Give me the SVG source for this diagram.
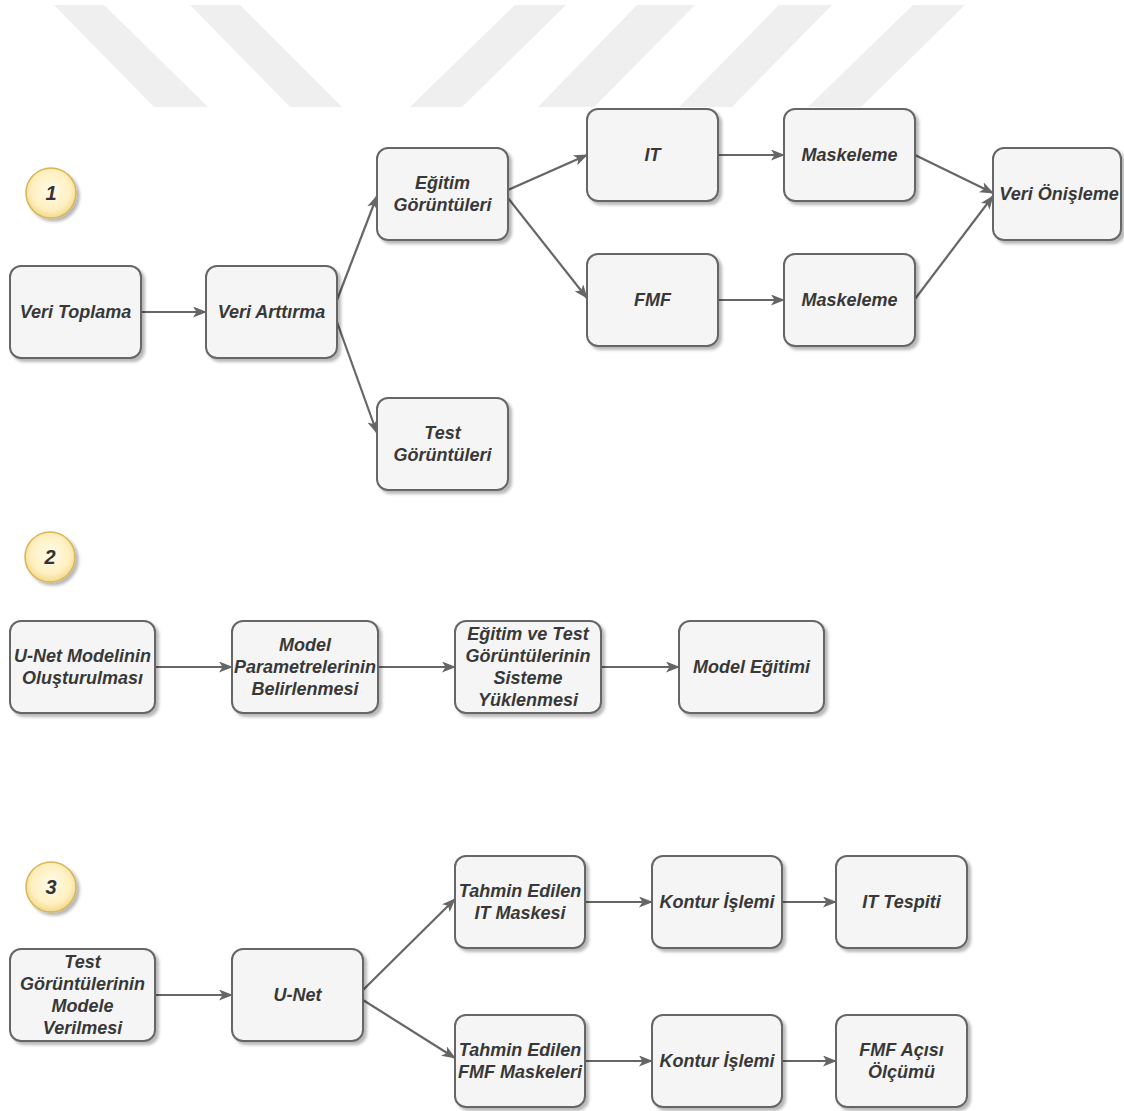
<svg xmlns="http://www.w3.org/2000/svg" width="1124" height="1111" viewBox="0 0 1124 1111">
  <defs>
    <filter id="shadow" x="-10%" y="-10%" width="130%" height="130%">
      <feDropShadow dx="3" dy="3" stdDeviation="1.6" flood-color="#000" flood-opacity="0.28"/>
    </filter>
    <radialGradient id="badgeFill" cx="50%" cy="45%" r="55%">
      <stop offset="0" stop-color="#fffbea"/>
      <stop offset="0.7" stop-color="#fff0c0"/>
      <stop offset="1" stop-color="#f1d98e"/>
    </radialGradient>
    <marker id="arrow" viewBox="0 0 14 11" refX="13" refY="5.5" markerWidth="14" markerHeight="11" markerUnits="userSpaceOnUse" orient="auto">
      <path d="M0,0 L14,5.5 L0,11 L3.5,5.5 Z" fill="#666666"/>
    </marker>
  </defs>
  <style>
    .box { fill: #f5f5f5; stroke: #666666; stroke-width: 2; filter: url(#shadow); }
    .lbl { font-family: "Liberation Sans", Arial, sans-serif; font-size: 18px; font-weight: bold; font-style: italic; fill: #383838; text-anchor: middle; }
    .badge { fill: url(#badgeFill); stroke: #d6b656; stroke-width: 1.5; filter: url(#shadow); }
    .badgeTxt { font-family: "Liberation Sans", Arial, sans-serif; font-size: 20px; font-weight: bold; font-style: italic; fill: #333333; text-anchor: middle; }
    .edge { fill: none; stroke: #666666; stroke-width: 2.2; marker-end: url(#arrow); }
    .stripe { fill: #efefef; }
  </style>

  <rect x="0" y="0" width="1124" height="1111" fill="#ffffff"/>

  <!-- diagonal band decoration along the top -->
  <g id="bands">
    <polygon class="stripe" points="54,5 104,5 208,107 154,107"/>
    <polygon class="stripe" points="190,5 240,5 342,107 290,107"/>
    <polygon class="stripe" points="515,5 566,5 462,107 410,107"/>
    <polygon class="stripe" points="637,5 695,5 594,107 538,107"/>
    <polygon class="stripe" points="779,5 832,5 732,107 679,107"/>
    <polygon class="stripe" points="913,5 965,5 861,107 808,107"/>
  </g>

  <!-- step badges -->
  <g id="badge-1"><circle class="badge" cx="51" cy="193" r="25"/><text class="badgeTxt" x="51" y="200">1</text></g>
  <g id="badge-2"><circle class="badge" cx="50" cy="557" r="25"/><text class="badgeTxt" x="50" y="564">2</text></g>
  <g id="badge-3"><circle class="badge" cx="51" cy="887" r="25"/><text class="badgeTxt" x="51" y="894">3</text></g>

  <!-- connectors -->
  <g id="connectors">
    <line class="edge" x1="141" y1="312" x2="206" y2="312"/>
    <line class="edge" x1="337" y1="300" x2="377" y2="196"/>
    <line class="edge" x1="337" y1="322" x2="377" y2="433"/>
    <line class="edge" x1="508" y1="190" x2="587" y2="155"/>
    <line class="edge" x1="508" y1="198" x2="587" y2="298"/>
    <line class="edge" x1="718" y1="155" x2="784" y2="155"/>
    <line class="edge" x1="718" y1="300" x2="784" y2="300"/>
    <line class="edge" x1="915" y1="155" x2="993" y2="193"/>
    <line class="edge" x1="915" y1="299" x2="993" y2="196"/>

    <line class="edge" x1="155" y1="667" x2="232" y2="667"/>
    <line class="edge" x1="378" y1="667" x2="455" y2="667"/>
    <line class="edge" x1="601" y1="667" x2="679" y2="667"/>

    <line class="edge" x1="155" y1="995" x2="232" y2="995"/>
    <line class="edge" x1="363" y1="990" x2="455" y2="899"/>
    <line class="edge" x1="363" y1="1000" x2="455" y2="1058"/>
    <line class="edge" x1="585" y1="902" x2="652" y2="902"/>
    <line class="edge" x1="782" y1="902" x2="836" y2="902"/>
    <line class="edge" x1="585" y1="1061" x2="652" y2="1061"/>
    <line class="edge" x1="782" y1="1061" x2="836" y2="1061"/>
  </g>

  <!-- stage 1: data preparation -->
  <g id="veri-toplama"><rect class="box" x="10" y="266" width="131" height="92" rx="11"/><text class="lbl" x="75.5" y="318">Veri Toplama</text></g>
  <g id="veri-arttirma"><rect class="box" x="206" y="266" width="131" height="92" rx="11"/><text class="lbl" x="271.5" y="318">Veri Arttırma</text></g>
  <g id="egitim-goruntuleri"><rect class="box" x="377" y="148" width="131" height="92" rx="11"/><text class="lbl" x="442.5" y="189">Eğitim</text><text class="lbl" x="442.5" y="211">Görüntüleri</text></g>
  <g id="test-goruntuleri"><rect class="box" x="377" y="398" width="131" height="92" rx="11"/><text class="lbl" x="442.5" y="439">Test</text><text class="lbl" x="442.5" y="461">Görüntüleri</text></g>
  <g id="it"><rect class="box" x="587" y="109" width="131" height="92" rx="11"/><text class="lbl" x="652.5" y="161">IT</text></g>
  <g id="fmf"><rect class="box" x="587" y="254" width="131" height="92" rx="11"/><text class="lbl" x="652.5" y="306">FMF</text></g>
  <g id="maskeleme-it"><rect class="box" x="784" y="109" width="131" height="92" rx="11"/><text class="lbl" x="849.5" y="161">Maskeleme</text></g>
  <g id="maskeleme-fmf"><rect class="box" x="784" y="254" width="131" height="92" rx="11"/><text class="lbl" x="849.5" y="306">Maskeleme</text></g>
  <g id="veri-onisleme"><rect class="box" x="993" y="148" width="128" height="92" rx="11"/><text class="lbl" x="1059" y="200">Veri Önişleme</text></g>

  <!-- stage 2: model training -->
  <g id="unet-olusturma"><rect class="box" x="10" y="621" width="145" height="92" rx="11"/><text class="lbl" x="82.5" y="662">U-Net Modelinin</text><text class="lbl" x="82.5" y="684">Oluşturulması</text></g>
  <g id="parametreler"><rect class="box" x="232" y="621" width="146" height="92" rx="11"/><text class="lbl" x="305" y="651">Model</text><text class="lbl" x="305" y="673">Parametrelerinin</text><text class="lbl" x="305" y="695">Belirlenmesi</text></g>
  <g id="sisteme-yukleme"><rect class="box" x="455" y="621" width="146" height="92" rx="11"/><text class="lbl" x="528" y="640">Eğitim ve Test</text><text class="lbl" x="528" y="662">Görüntülerinin</text><text class="lbl" x="528" y="684">Sisteme</text><text class="lbl" x="528" y="706">Yüklenmesi</text></g>
  <g id="model-egitimi"><rect class="box" x="679" y="621" width="145" height="92" rx="11"/><text class="lbl" x="751.5" y="673">Model Eğitimi</text></g>

  <!-- stage 3: prediction and measurement -->
  <g id="test-verilmesi"><rect class="box" x="10" y="949" width="145" height="92" rx="11"/><text class="lbl" x="82.5" y="968">Test</text><text class="lbl" x="82.5" y="990">Görüntülerinin</text><text class="lbl" x="82.5" y="1012">Modele</text><text class="lbl" x="82.5" y="1034">Verilmesi</text></g>
  <g id="unet"><rect class="box" x="232" y="949" width="131" height="92" rx="11"/><text class="lbl" x="297.5" y="1001">U-Net</text></g>
  <g id="tahmin-it"><rect class="box" x="455" y="856" width="130" height="92" rx="11"/><text class="lbl" x="520" y="897">Tahmin Edilen</text><text class="lbl" x="520" y="919">IT Maskesi</text></g>
  <g id="kontur-it"><rect class="box" x="652" y="856" width="130" height="92" rx="11"/><text class="lbl" x="717" y="908">Kontur İşlemi</text></g>
  <g id="it-tespiti"><rect class="box" x="836" y="856" width="131" height="92" rx="11"/><text class="lbl" x="901.5" y="908">IT Tespiti</text></g>
  <g id="tahmin-fmf"><rect class="box" x="455" y="1015" width="130" height="92" rx="11"/><text class="lbl" x="520" y="1056">Tahmin Edilen</text><text class="lbl" x="520" y="1078">FMF Maskeleri</text></g>
  <g id="kontur-fmf"><rect class="box" x="652" y="1015" width="130" height="92" rx="11"/><text class="lbl" x="717" y="1067">Kontur İşlemi</text></g>
  <g id="fmf-acisi"><rect class="box" x="836" y="1015" width="131" height="92" rx="11"/><text class="lbl" x="901.5" y="1056">FMF Açısı</text><text class="lbl" x="901.5" y="1078">Ölçümü</text></g>
</svg>
